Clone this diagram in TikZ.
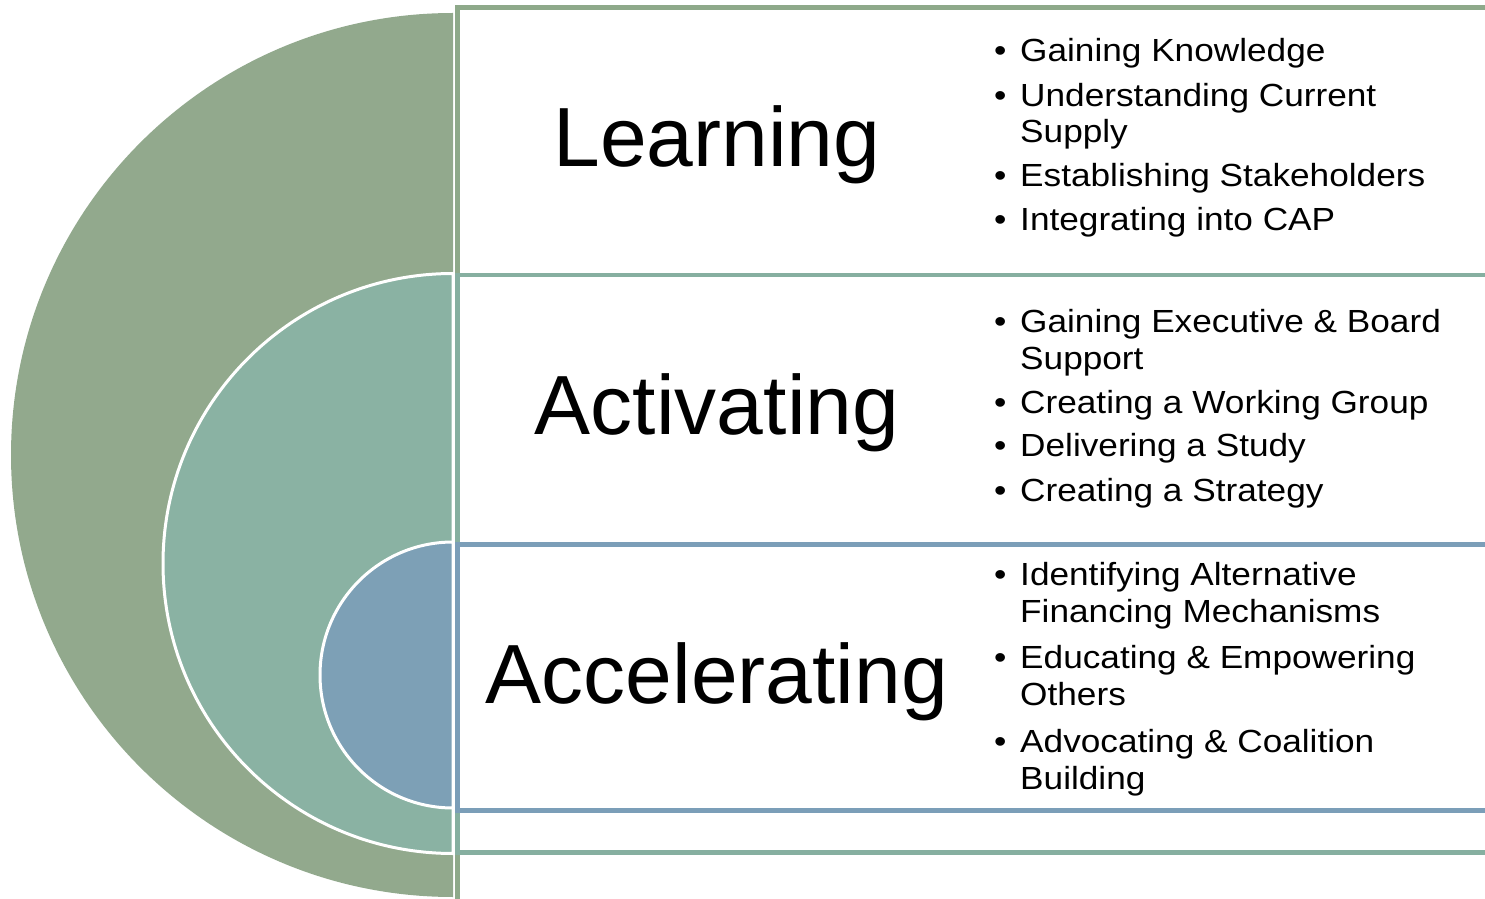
\documentclass[tikz,border=0pt]{standalone}
\usepackage{fontspec}
\setmainfont{Liberation Sans}
\newfontfamily\itemfont[FakeStretch=1.1]{Liberation Sans}
\usetikzlibrary{positioning}

\definecolor{learnfill}{HTML}{92A98D}
\definecolor{actfill}{HTML}{8AB2A3}
\definecolor{accfill}{HTML}{7DA0B6}
\definecolor{learnline}{HTML}{8EA98A}
\definecolor{actline}{HTML}{86AFA0}
\definecolor{accline}{HTML}{7B9EB8}

\begin{document}
\begin{tikzpicture}[x=1pt,y=1pt,
                    band/.style={line width=4.5pt, fill=white},
                    half/.style={draw=white, line width=3pt},
                    phase/.style={font=\fontsize{84}{84}\selectfont, inner sep=0pt, anchor=base},
                    item/.style={font=\itemfont\fontsize{32}{36}\selectfont, inner sep=0pt, anchor=base west}]
  \useasboundingbox (0,0) rectangle (1485,898);
  % the three bands, nested
  \draw[band, draw=learnline] (457.5,890.5) rectangle (1520,-20);
  \draw[band, draw=actline]   (457.5,623)   rectangle (1520,45.5);
  \draw[band, draw=accline]   (457.5,353.5) rectangle (1520,87.5);
  % half discs on the left
  \fill[learnfill] (453,885) arc[start angle=90, end angle=270, radius=442] -- cycle;
  \filldraw[half, fill=actfill] (453,624.5) arc[start angle=90, end angle=270, radius=290] -- cycle;
  \filldraw[half, fill=accfill] (453,356) arc[start angle=90, end angle=270, radius=133] -- cycle;
  % phase names
  \node[phase] (learn) at (717,731) {Learning};
  \node[phase] (act)   at (717,463) {Activating};
  \node[phase] (acc)   at (717,195) {Accelerating};
  % bullet lists, one line per node
  \foreach \txt/\yy/\b [count=\n] in {Gaining Knowledge/836/1, Understanding Current/791/1, Supply/755/0,
        Establishing Stakeholders/711/1, Integrating into CAP/667/1,
        Gaining Executive \& Board/565/1, Support/528/0, Creating a Working Group/484/1,
        Delivering a Study/441/1, Creating a Strategy/397/1,
        Identifying Alternative/313/1, Financing Mechanisms/276/0, Educating \& Empowering/230/1,
        Others/193/0, Advocating \& Coalition/146/1, Building/109/0}{
    \node[item] (line\n) at (1020,\yy) {\txt};
    \ifnum\b=1 \node[item] (dot\n) at (994,\yy) {\textbullet}; \fi
  }
\end{tikzpicture}
\end{document}
